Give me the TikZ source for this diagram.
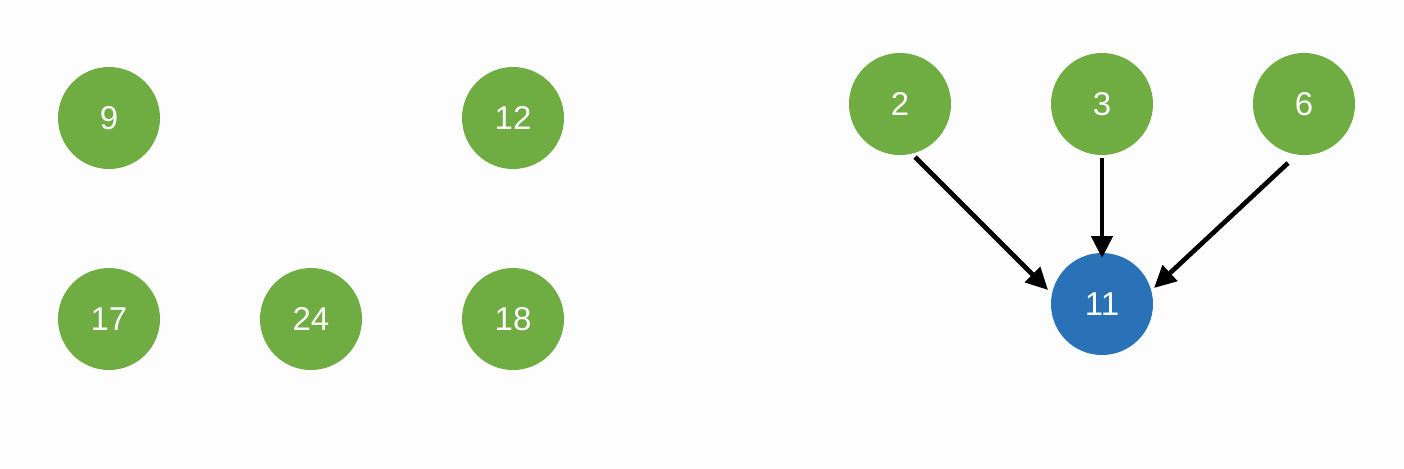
\documentclass[tikz,border=0pt]{standalone}
\usepackage{fontspec}
\setmainfont{Liberation Sans}
\usetikzlibrary{arrows.meta,calc}
\definecolor{gfill}{HTML}{6FAC41}
\definecolor{bfill}{HTML}{2A72B8}
\definecolor{bg}{HTML}{FDFDFD}
\tikzset{
  gnode/.style={circle,fill=gfill,draw=none,minimum size=51pt,inner sep=0pt,text=white,font=\fontsize{16.5}{19}\selectfont},
  bnode/.style={gnode,fill=bfill},
  arr/.style={line width=2.35pt,-{Triangle[length=11pt,width=10.5pt]}}
}
\begin{document}
\begin{tikzpicture}[x=0.5pt,y=-0.5pt]
\fill[bg] (0,0) rectangle (1404,468);
\useasboundingbox (0,0) rectangle (1404,468);
\node[gnode] (n9) at (109,118) {9};
\node[gnode] (n12) at (513,118) {12};
\node[gnode] (n17) at (109,319) {17};
\node[gnode] (n24) at (311,319) {24};
\node[gnode] (n18) at (513,319) {18};
\node[gnode] (n2) at (900,104) {2};
\node[gnode] (n3) at (1102,104) {3};
\node[gnode] (n6) at (1304,104) {6};
\node[bnode] (n11) at (1102,304) {11};
\draw[arr] ($(n2)+(15,53)$) -- ($(n11)+(-54,-14)$);
\draw[arr] ($(n3)+(0,54)$) -- ($(n11)+(0,-46)$);
\draw[arr] ($(n6)+(-16,59)$) -- ($(n11)+(52,-16)$);
\end{tikzpicture}
\end{document}
